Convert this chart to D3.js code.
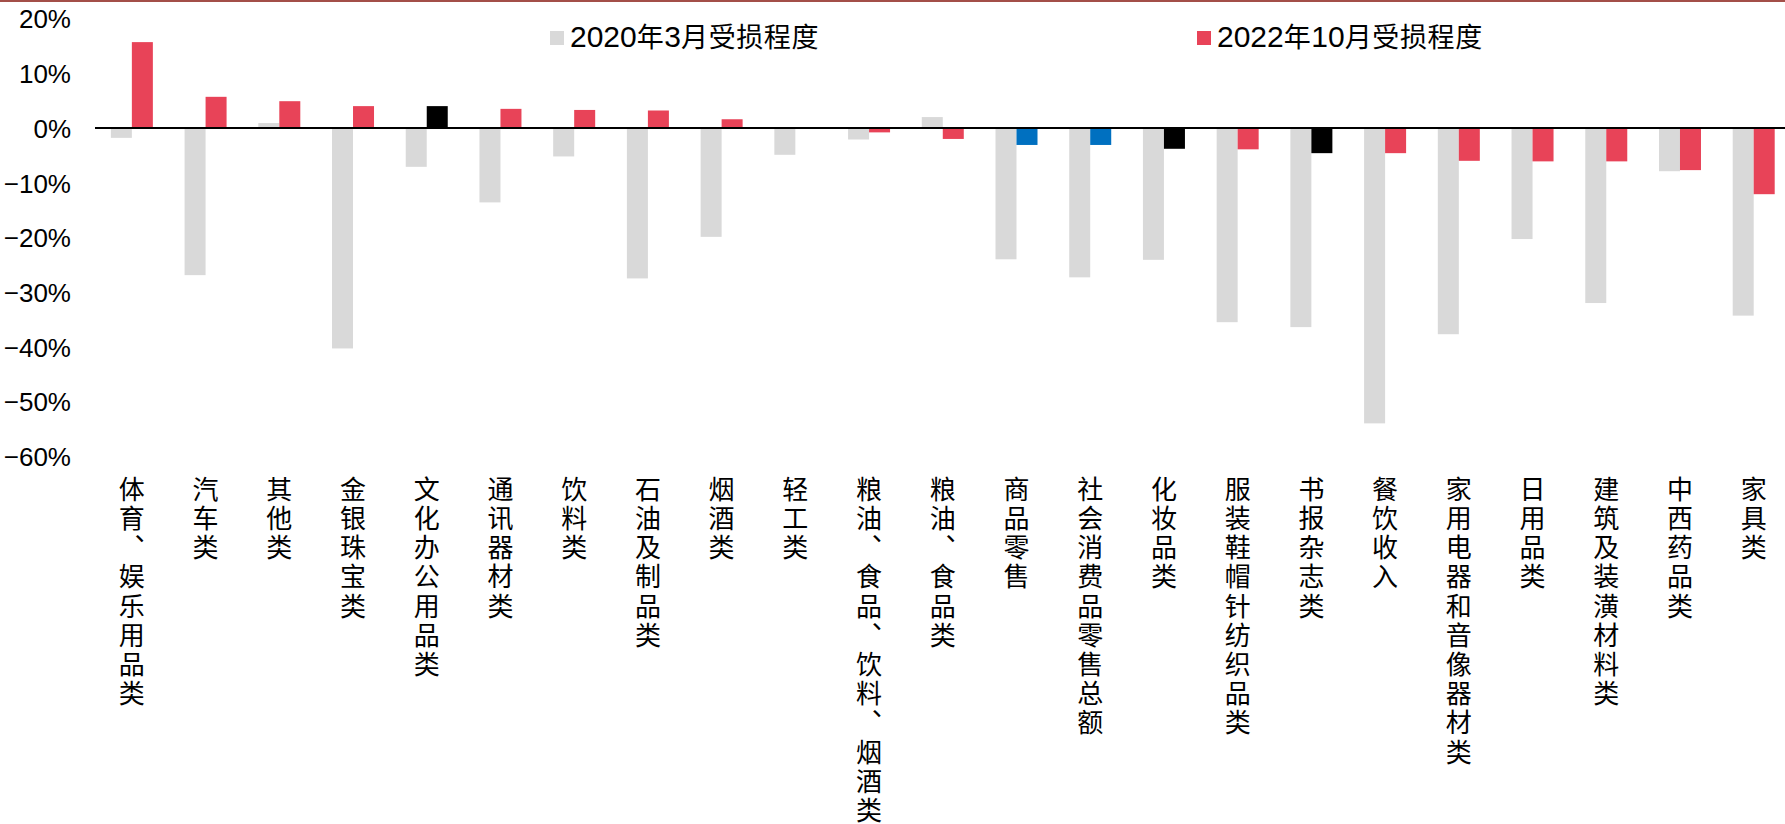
<!DOCTYPE html>
<html>
<head>
<meta charset="utf-8">
<script src="https://cdn.jsdelivr.net/npm/d3@7"></script>
<style>
  html, body { margin: 0; padding: 0; background: #fff; }
  svg { display: block; }
</style>
</head>
<body>
<svg id="chart" width="1785" height="824"></svg>
<script>
// Retail categories, ordered by the October 2022 change
const categories = [
  "体育、娱乐用品类", "汽车类", "其他类", "金银珠宝类", "文化办公用品类",
  "通讯器材类", "饮料类", "石油及制品类", "烟酒类", "轻工类",
  "粮油、食品、饮料、烟酒类", "粮油、食品类", "商品零售", "社会消费品零售总额",
  "化妆品类", "服装鞋帽针纺织品类", "书报杂志类", "餐饮收入",
  "家用电器和音像器材类", "日用品类", "建筑及装潢材料类", "中西药品类", "家具类"
];

// Year-on-year change, in percent
const march2020 = [
  -1.8, -26.9, 0.9, -40.3, -7.1,
  -13.6, -5.2, -27.5, -19.9, -4.9,
  -2.1, 2.0, -24.0, -27.3,
  -24.1, -35.5, -36.4, -54.0,
  -37.7, -20.3, -32.0, -7.9, -34.3
];
const october2022 = [
  15.7, 5.7, 4.9, 4.0, 4.0,
  3.5, 3.3, 3.2, 1.6, 0.0,
  -0.8, -2.0, -3.1, -3.1,
  -3.8, -3.9, -4.6, -4.6,
  -6.0, -6.1, -6.1, -7.7, -12.1
];

const seriesNames = ["2020年3月受损程度", "2022年10月受损程度"];
const yTicks = [20, 10, 0, -10, -20, -30, -40, -50, -60];

// Colours
const GREY = "#d9d9d9";
const RED = "#e84358";
const BLUE = "#0070c0";
const BLACK = "#000000";
const totalCats = new Set(["商品零售", "社会消费品零售总额"]);
const darkCats = new Set(["文化办公用品类", "化妆品类", "书报杂志类"]);
const color2022 = c => totalCats.has(c) ? BLUE : darkCats.has(c) ? BLACK : RED;

const W = 1785, H = 824;
const svg = d3.select("#chart");

const NUM_FONT = "'Liberation Sans Narrow', 'Arial Narrow', 'Liberation Sans', Arial, sans-serif";
const CJK_FONT = "'Noto Sans CJK SC', sans-serif";

// Scales
const x = d3.scaleBand().domain(categories).range([95, 95 + 73.72 * categories.length]).padding(0);
const barW = 21;
const x1 = d3.scaleBand().domain(seriesNames)
  .range([x.bandwidth() / 2 - barW, x.bandwidth() / 2 + barW]).padding(0);
const y = d3.scaleLinear().domain([-60, 20]).range([456.2, 18.6]);

// Top rule
svg.append("rect").attr("x", 0).attr("y", 0).attr("width", W).attr("height", 2).attr("fill", "#a34f48");

// Bars
const rows = categories.map((c, i) => ({ c, a: march2020[i], b: october2022[i] }));
const g = svg.append("g");
const groups = g.selectAll("g.cat").data(rows).join("g")
  .attr("class", "cat")
  .attr("transform", d => `translate(${x(d.c)},0)`);

groups.append("rect")
  .attr("x", x1(seriesNames[0]))
  .attr("width", x1.bandwidth())
  .attr("y", d => y(Math.max(0, d.a)))
  .attr("height", d => Math.abs(y(d.a) - y(0)))
  .attr("fill", GREY);

groups.append("rect")
  .attr("x", x1(seriesNames[1]))
  .attr("width", x1.bandwidth())
  .attr("y", d => y(Math.max(0, d.b)))
  .attr("height", d => Math.abs(y(d.b) - y(0)))
  .attr("fill", d => color2022(d.c));

// Zero baseline
svg.append("line")
  .attr("x1", x.range()[0]).attr("x2", W)
  .attr("y1", y(0)).attr("y2", y(0))
  .attr("stroke", "#000").attr("stroke-width", 2);

// Y axis labels (no axis line or ticks)
const yAxis = d3.axisLeft(y).tickValues(yTicks)
  .tickFormat(d => String(d).replace("-", "−") + "%")
  .tickSize(0).tickPadding(0);
const ya = svg.append("g").attr("transform", "translate(71,0)").call(yAxis);
ya.select(".domain").remove();
ya.selectAll("text")
  .attr("font-family", NUM_FONT)
  .attr("font-size", 26)
  .attr("fill", "#000")
  .attr("dy", "0.36em");

// Category labels, set vertically
svg.append("g").selectAll("text").data(categories).join("text")
  .attr("x", d => x(d) + x.bandwidth() / 2)
  .attr("y", 476)
  .style("writing-mode", "vertical-rl")
  .attr("text-anchor", "start")
  .attr("font-family", CJK_FONT)
  .attr("font-size", 26)
  .attr("letter-spacing", 3.2)
  .attr("fill", "#000")
  .text(d => d);

// Legend: digits in the narrow face, Chinese in the CJK face
const legendItems = [
  { name: seriesNames[0], color: GREY, x: 550 },
  { name: seriesNames[1], color: RED, x: 1197 }
];
const lg = svg.append("g").selectAll("g").data(legendItems).join("g")
  .attr("transform", d => `translate(${d.x},31)`);
lg.append("rect").attr("width", 14).attr("height", 14).attr("fill", d => d.color);
const lt = lg.append("text")
  .attr("x", 20).attr("y", 15.8)
  .attr("fill", "#000");
lt.selectAll("tspan")
  .data(d => d.name.match(/[0-9]+|[^0-9]+/g))
  .join("tspan")
  .attr("font-family", s => /[0-9]/.test(s) ? NUM_FONT : CJK_FONT)
  .attr("font-size", s => /[0-9]/.test(s) ? 30 : 27)
  .attr("letter-spacing", s => /[0-9]/.test(s) ? 0 : 0.6)
  .text(s => s);
</script>
</body>
</html>
